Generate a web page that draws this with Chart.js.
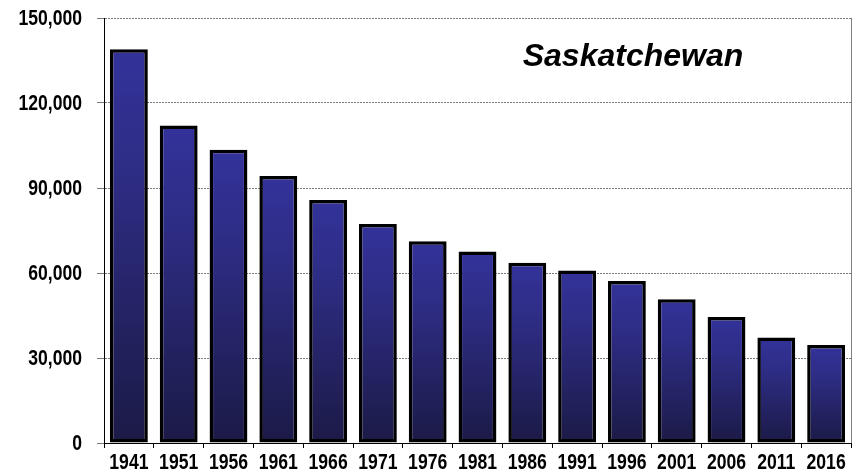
<!DOCTYPE html>
<html>
<head>
<meta charset="utf-8">
<script src="https://cdn.jsdelivr.net/npm/chart.js@4"></script>
<style>
    html, body { margin: 0; padding: 0; background: #fff; }
    #wrap { width: 865px; height: 474px; }
</style>
</head>
<body>
<div id="wrap"><canvas id="chart" width="865" height="474"></canvas></div>
<script>
// census years and values (Saskatchewan)
const years = ['1941', '1951', '1956', '1961', '1966', '1971', '1976', '1981', '1986', '1991', '1996', '2001', '2006', '2011', '2016'];
const values = [139000, 112100, 103500, 94200, 85800, 77300, 71200, 67600, 63600, 60900, 57200, 50700, 44500, 37200, 34600];
const yTicks = [0, 30000, 60000, 90000, 120000, 150000];
const chartTitle = 'Saskatchewan';

const labelFont = "'Liberation Sans', Arial, sans-serif";
const narrow = 0.8; // squeeze labels sideways, the original uses a narrow face

// per-bar vertical gradient, blue at top to navy at bottom
function barGradient(ctx) {
    const chart = ctx.chart;
    const y = chart.scales.y;
    if (!y || ctx.raw === undefined) {
        return '#2c2b80';
    }
    const top = y.getPixelForValue(ctx.raw);
    const bottom = y.getPixelForValue(0);
    if (!isFinite(top) || !isFinite(bottom) || top === bottom) {
        return '#2c2b80';
    }
    const g = chart.ctx.createLinearGradient(0, top, 0, bottom);
    g.addColorStop(0, '#33329a');
    g.addColorStop(0.3, '#2e2d86');
    g.addColorStop(1, '#1b1a46');
    return g;
}

function narrowText(c, text, x, y) {
    c.save();
    c.translate(x, y);
    c.scale(narrow, 1);
    c.fillText(text, 0, 0);
    c.restore();
}

const extras = {
    id: 'extras',
    afterDraw: function(chart) {
        const c = chart.ctx;
        const area = chart.chartArea;
        const xs = chart.scales.x;
        const ys = chart.scales.y;
        c.save();
        // grey right border of the plot
        c.strokeStyle = '#808080';
        c.lineWidth = 1;
        c.beginPath();
        c.moveTo(area.right + 0.5, area.top);
        c.lineTo(area.right + 0.5, area.bottom);
        c.stroke();

        // tick labels
        c.fillStyle = '#000';
        c.font = 'bold 22px ' + labelFont;
        c.textBaseline = 'alphabetic';
        c.textAlign = 'center';
        xs.ticks.forEach(function(t, i) {
            narrowText(c, xs.getLabelForValue(t.value), xs.getPixelForTick(i), area.bottom + 26);
        });
        c.textAlign = 'right';
        c.textBaseline = 'middle';
        ys.ticks.forEach(function(t) {
            narrowText(c, t.value.toLocaleString('en-US'), area.left - 22, ys.getPixelForValue(t.value) + 1);
        });

        // title in upper right
        c.font = "italic bold 32px 'Liberation Sans', Arial, sans-serif";
        c.textAlign = 'center';
        c.textBaseline = 'alphabetic';
        c.fillText(chartTitle, 633, 66);
        c.restore();
    }
};

const chart = new Chart(document.getElementById('chart'), {
    type: 'bar',
    data: {
        labels: years,
        datasets: [{
            data: values,
            backgroundColor: barGradient,
            borderColor: '#000',
            borderWidth: 3.5,
            borderSkipped: false,
            barPercentage: 0.76,
            categoryPercentage: 1.0
        }]
    },
    options: {
        responsive: false,
        animation: false,
        layout: { padding: { left: 0, right: 14, top: 18, bottom: 0 } },
        plugins: {
            legend: { display: false },
            tooltip: { enabled: false }
        },
        scales: {
            x: {
                offset: true,
                afterFit: function(scale) { scale.height = 31; },
                grid: {
                    offset: true,
                    drawOnChartArea: false,
                    drawTicks: true,
                    tickLength: 5,
                    tickColor: '#000',
                    tickWidth: 1
                },
                border: { display: true, color: '#000', width: 1 },
                ticks: { display: false, autoSkip: false }
            },
            y: {
                min: 0,
                max: 150000,
                afterFit: function(scale) { scale.width = 104; },
                afterBuildTicks: function(scale) {
                    scale.ticks = yTicks.map(v => ({ value: v }));
                },
                grid: {
                    color: '#7a7a7a',
                    lineWidth: 1,
                    tickLength: 7,
                    tickColor: '#7a7a7a'
                },
                border: { display: true, color: '#000', width: 1, dash: [2, 1] },
                ticks: { display: false }
            }
        }
    },
    plugins: [extras]
});
// re-render once scales exist so the gradients use real pixel positions
chart.update();
</script>
</body>
</html>
